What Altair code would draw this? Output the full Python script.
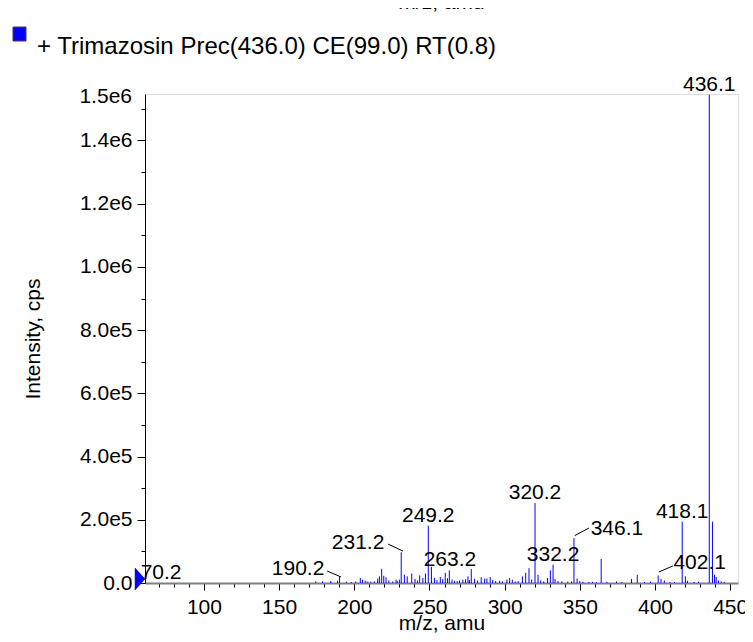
import altair as alt
import pandas as pd

# ---- spectrum sticks (m/z, intensity in cps) ----
mz = [174.4, 178.9, 184.4, 188.9, 190.2, 194.7, 198.0, 201.0, 204.0, 205.5, 207.3, 209.0, 211.0,
      213.3, 215.6, 216.7, 218.2, 219.6, 221.1, 223.0, 225.6, 227.8, 228.5, 230.0, 231.2, 233.3,
      235.2, 238.2, 240.4, 242.0, 243.5, 245.6, 247.3, 249.2, 251.3, 253.3, 255.0, 257.2, 258.8,
      260.5, 262.0, 263.2, 265.0, 266.7, 268.5, 270.0, 272.2, 274.0, 275.6, 276.6, 277.8, 280.0,
      282.0, 284.4, 286.7, 288.2, 290.4, 292.0, 294.0, 296.7, 298.5, 301.5, 303.3, 305.1, 307.0,
      309.0, 311.8, 314.0, 316.2, 318.0, 320.2, 322.2, 324.0, 326.0, 328.5, 330.4, 332.2, 333.5,
      335.5, 338.0, 342.0, 344.5, 346.1, 348.2, 350.0, 352.0, 356.0, 358.5, 361.0, 364.2, 368.0,
      374.4, 378.0, 384.4, 388.2, 393.0, 397.0, 402.1, 404.0, 406.2, 410.0, 413.0, 418.1, 420.2,
      421.6, 426.0, 429.0, 436.1, 438.2, 439.6, 440.7, 442.2, 444.0, 446.0]
intensity = [5.3e3, 5.3e3, 6.3e3, 7.4e3, 2.1e4, 4.0e3, 3.0e3, 5.0e3, 1.6e4, 1.05e4, 7.4e3, 5.0e3, 4.0e3,
             5.3e3, 1.4e4, 2.1e4, 4.5e4, 2.3e4, 1.8e4, 8.0e3, 5.0e3, 1.05e4, 6.0e3, 1.05e4, 9.7e4, 2.6e4,
             2.1e4, 3.0e4, 1.3e4, 8.0e3, 2.4e4, 1.6e4, 3.0e4, 1.81e5, 5.1e4, 1.6e4, 9.0e3, 1.9e4, 1.2e4,
             3.2e4, 1.5e4, 4.0e4, 1.1e4, 7.0e3, 6.0e3, 8.0e3, 1.05e4, 1.2e4, 2.1e4, 9.0e3, 4.4e4, 1.3e4,
             8.0e3, 1.8e4, 1.4e4, 1.4e4, 1.9e4, 9.0e3, 6.0e3, 7.0e3, 5.0e3, 1.1e4, 1.6e4, 1.05e4, 5.0e3,
             6.0e3, 2.1e4, 3.2e4, 4.7e4, 1.1e4, 2.53e5, 2.6e4, 8.0e3, 5.0e3, 1.6e4, 4.0e4, 5.8e4, 1.3e4,
             6.0e3, 5.0e3, 4.0e3, 5.0e3, 1.42e5, 1.4e4, 6.0e3, 4.0e3, 3.0e3, 4.0e3, 3.0e3, 7.6e4, 3.0e3,
             5.0e3, 3.0e3, 1.3e4, 2.6e4, 3.0e3, 4.0e3, 2.4e4, 1.3e4, 8.0e3, 3.0e3, 3.0e3, 1.94e5, 2.1e4,
             7.0e3, 3.0e3, 4.0e3, 1.545e6, 1.94e5, 2.6e4, 1.9e4, 8.0e3, 5.0e3, 3.0e3]

# ---- peak labels placed directly above their peaks ----
top_text = ["436.1", "320.2", "249.2", "418.1", "263.2", "332.2", "70.2"]
top_mz = [436.1, 320.2, 249.2, 418.1, 263.6, 332.2, 71.5]
top_int = [1.545e6, 2.53e5, 1.81e5, 1.94e5, 4.0e4, 5.8e4, 0.0]

# ---- peak labels with leader lines ----
lead_text = ["231.2", "190.2", "346.1", "402.1"]
lead_mz = [202.5, 162.6, 374.7, 429.7]
lead_int = [1.06e5, 2.4e4, 1.53e5, 4.3e4]
lead_from_mz = [222.5, 181.9, 356.1, 411.9]
lead_from_int = [1.23e5, 3.8e4, 1.74e5, 5.4e4]
lead_to_mz = [232.4, 191.2, 346.6, 402.6]
lead_to_int = [1.01e5, 1.9e4, 1.50e5, 3.5e4]

legend_label = "+ Trimazosin Prec(436.0) CE(99.0) RT(0.8)"
x_title = "m/z, amu"
y_title = "Intensity, cps"
y_top_label = "1.5e6"

X_MIN, X_MAX = 60.8, 455.2
Y_MAX = 1.547e6
FONT = "Liberation Sans"
FS = 21
BLUE = "#0000ff"

sticks = pd.DataFrame({"mz": mz, "intensity": intensity, "base": [0.0] * len(mz)})
tops = pd.DataFrame({"mz": top_mz, "intensity": top_int, "label": top_text})
leads = pd.DataFrame({"mz": lead_mz, "intensity": lead_int, "label": lead_text,
                      "mz_a": lead_from_mz, "int_a": lead_from_int,
                      "mz_b": lead_to_mz, "int_b": lead_to_int})
one = pd.DataFrame({"k": [0]})

xscale = alt.Scale(domain=[X_MIN, X_MAX], nice=False, zero=False)
yscale = alt.Scale(domain=[0, Y_MAX], nice=False)

x_axis = alt.Axis(
    title=x_title, values=list(range(70, 460, 10)),
    labelExpr="datum.value % 50 == 0 ? datum.value : ''",
    tickSize={"condition": {"test": "datum.value % 50 == 0", "value": 7}, "value": 4},
    tickColor="black", domainColor="#808080", domainWidth=2,
    labelFont=FONT, labelFontSize=FS, labelColor="black", labelPadding=6,
    titleFont=FONT, titleFontSize=FS, titleColor="black", titleFontWeight="normal",
    titleY=40, titleBaseline="middle", grid=False,
)
y_axis = alt.Axis(
    title=y_title, values=[i * 100000 for i in range(16)],
    labelExpr=("datum.value == 0 ? '0.0' : (round(datum.value/100000) % 2 != 0 ? '' : "
               "(datum.value >= 1000000 ? format(datum.value/1000000, '.1f') + 'e6' : "
               "format(datum.value/100000, '.1f') + 'e5'))"),
    tickSize={"condition": {"test": "round(datum.value/100000) % 2 == 0", "value": 8}, "value": 4},
    tickColor="black", domainColor="black", domainWidth=1,
    labelFont=FONT, labelFontSize=FS, labelColor="black", labelPadding=5,
    titleFont=FONT, titleFontSize=FS, titleColor="black", titleFontWeight="normal",
    titleX=-112, titleY=244.5, titleAngle=270, titleBaseline="middle", titleAlign="center",
    grid=False,
)

stick_layer = alt.Chart(sticks).mark_rule(color=BLUE, strokeWidth=1).encode(
    x=alt.X("mz:Q", scale=xscale, axis=x_axis),
    y=alt.Y("intensity:Q", scale=yscale, axis=y_axis),
    y2="base:Q",
)

top_layer = alt.Chart(tops).mark_text(font=FONT, fontSize=FS, color="black",
                                       baseline="alphabetic", align="center", dy=-4).encode(
    x=alt.X("mz:Q", scale=xscale, axis=x_axis),
    y=alt.Y("intensity:Q", scale=yscale, axis=y_axis),
    text="label:N",
)

lead_text_layer = alt.Chart(leads).mark_text(font=FONT, fontSize=FS, color="black",
                                              baseline="alphabetic", align="center").encode(
    x=alt.X("mz:Q", scale=xscale, axis=x_axis),
    y=alt.Y("intensity:Q", scale=yscale, axis=y_axis),
    text="label:N",
)

lead_line_layer = alt.Chart(leads).mark_rule(color="black", strokeWidth=1).encode(
    x=alt.X("mz_a:Q", scale=xscale, axis=x_axis),
    y=alt.Y("int_a:Q", scale=yscale, axis=y_axis),
    x2="mz_b:Q",
    y2="int_b:Q",
)

triangle = alt.Chart(one).mark_point(
    shape="M-0.45,-1 L0.45,0 L-0.45,1 Z", filled=True, fill=BLUE, stroke="#000080",
    strokeWidth=0.5, opacity=1, size=484,
).encode(x=alt.value(-5), y=alt.value(485))

top_tick_label = alt.Chart(one).mark_text(
    text=y_top_label, font=FONT, fontSize=FS, color="black", align="right", baseline="middle"
).encode(x=alt.value(-13), y=alt.value(3))

legend_box = alt.Chart(one).mark_rect(fill=BLUE, stroke="#404040", strokeWidth=1).encode(
    x=alt.value(-132), x2=alt.value(-119), y=alt.value(-67), y2=alt.value(-53)
)
legend_txt = alt.Chart(one).mark_text(
    text=legend_label, font=FONT, fontSize=24, color="black", align="left", baseline="middle"
).encode(x=alt.value(-108), y=alt.value(-47))

cut_title = alt.Chart(one).mark_text(
    text=x_title, font=FONT, fontSize=FS, color="black", align="center", baseline="alphabetic"
).encode(x=alt.value(296.5), y=alt.value(-85))

chart = alt.layer(
    stick_layer, lead_line_layer, top_layer, lead_text_layer,
    triangle, top_tick_label, legend_box, legend_txt, cut_title,
).properties(
    width=593, height=489,
    padding={"left": 137, "top": 86, "right": 7, "bottom": 51},
    autosize="none",
).configure_view(stroke=None).configure(background="white")

chart.save("out.html", embed_options={"renderer": "svg", "actions": False})
